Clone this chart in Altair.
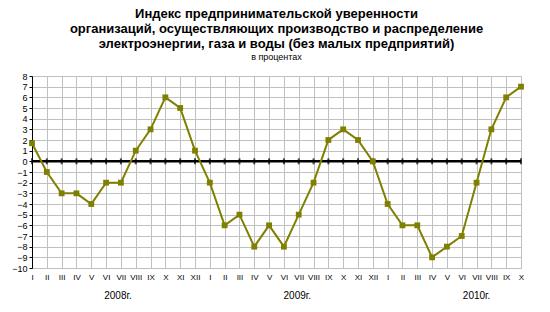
import altair as alt
import pandas as pd

month_labels = ["I","II","III","IV","V","VI","VII","VIII","IX","X","XI","XII",
                "I","II","III","IV","V","VI","VII","VIII","IX","X","XI","XII",
                "I","II","III","IV","V","VI","VII","VIII","IX","X"]
values = [1.7, -1, -3, -3, -4, -2, -2, 1, 3, 6, 5, 1,
          -2, -6, -5, -8, -6, -8, -5, -2, 2, 3, 2, 0,
          -4, -6, -6, -9, -8, -7, -2, 3, 6, 7]
years = ["2008г.", "2009г.", "2010г."]
year_pos = [5.8, 17.9, 30.0]
y_ticks = list(range(-10, 9))

df = pd.DataFrame({"i": list(range(len(values))), "v": values, "zero": [0] * len(values)})
ydf = pd.DataFrame({"year": years, "pos": year_pos})

W, H = 489, 192
label_expr = "[" + ",".join(f"'{m}'" for m in month_labels) + "][datum.value]"

xs = alt.Scale(domain=[0, len(values) - 1], nice=False, zero=False)
ys = alt.Scale(domain=[-10, 8], nice=False)

xaxis = alt.Axis(values=list(range(len(values))), labelExpr=label_expr, title=None,
                 grid=True, gridColor="#c0c0c0", gridWidth=1, labelFontSize=8,
                 labelFont="Liberation Sans", labelColor="#000", tickSize=0, domain=False,
                 labelPadding=5, labelAngle=0, labelOverlap=False, labelFlush=False)
yaxis = alt.Axis(values=y_ticks, title=None, grid=True, gridColor="#c0c0c0", gridWidth=1,
                 labelFontSize=9, labelFont="Liberation Sans", labelColor="#000",
                 tickSize=3, tickColor="#000", domainColor="#000", labelPadding=2,
                 labelOverlap=False, labelFlush=False)

X = alt.X("i:Q", scale=xs, axis=xaxis)
Y = alt.Y("v:Q", scale=ys, axis=yaxis)
Y0 = alt.Y("zero:Q", scale=ys, axis=yaxis)

base = alt.Chart(df)

zero_line = base.mark_line(color="#000", strokeWidth=2.5).encode(x=X, y=Y0)
zero_ticks = base.mark_tick(orient="vertical", color="#000", size=6, thickness=2).encode(x=X, y=Y0)
line = base.mark_line(color="#808000", strokeWidth=2).encode(x=X, y=Y)
pts = base.mark_point(shape="square", filled=True, color="#808000", size=34, opacity=1).encode(x=X, y=Y)

year_text = alt.Chart(ydf).mark_text(fontSize=10, font="Liberation Sans", color="#000",
                                     baseline="middle").encode(
    x=alt.X("pos:Q", scale=xs, axis=xaxis), y=alt.value(H + 28), text="year:N")

chart = alt.layer(zero_line, zero_ticks, line, pts, year_text).properties(
    width=W, height=H,
    autosize=alt.AutoSizeParams(type="none"),
    padding={"left": 32, "top": 76, "right": 29, "bottom": 44},
    title=alt.TitleParams(
        text=["Индекс предпринимательской уверенности",
              "организаций, осуществляющих производство и распределение",
              "электроэнергии, газа и воды (без малых предприятий)"],
        subtitle="в процентах",
        font="Liberation Sans", fontSize=13, fontWeight="bold", color="#000",
        lineHeight=15, subtitleFont="Liberation Sans", subtitleFontSize=9,
        subtitleColor="#000", subtitlePadding=2, anchor="middle", offset=10,
    ),
).configure_view(stroke="#000", strokeWidth=1).configure(background="white")

chart.save("out.html", embed_options={"renderer": "svg", "actions": False})
